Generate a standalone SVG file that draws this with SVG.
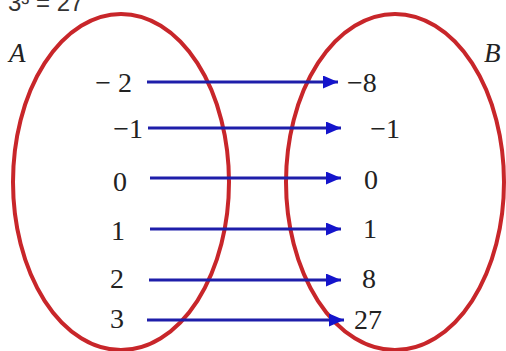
<svg xmlns="http://www.w3.org/2000/svg" width="506" height="351" viewBox="0 0 506 351">
<style>
.set{fill:none;stroke:#c8262a;stroke-width:4}
.num{font-family:"Liberation Serif","Times New Roman",serif;font-size:28px;fill:#222}
.lbl{font-family:"Liberation Serif","Times New Roman",serif;font-size:27px;font-style:italic;fill:#222}
.top{font-family:"Liberation Sans",Arial,sans-serif;font-size:24px;fill:#333}
.arr{stroke:#1e1eaa;stroke-width:3;fill:none;marker-end:url(#ah)}
</style>
<defs>
<marker id="ah" viewBox="0 0 15 13" refX="15" refY="6.5" markerWidth="15" markerHeight="13" markerUnits="userSpaceOnUse" orient="auto">
<path d="M0,0 L15,6.5 L0,13 Z" fill="#1414cc"/>
</marker>
</defs>
<rect width="506" height="351" fill="#ffffff"/>
<text class="top" x="8" y="11">3³ = 27</text>
<g id="setA">
<ellipse class="set" cx="121" cy="182" rx="108" ry="168"/>
<text class="lbl" x="9" y="62">A</text>
</g>
<g id="setB">
<ellipse class="set" cx="395" cy="182" rx="109" ry="168"/>
<text class="lbl" x="484" y="62">B</text>
</g>
<g id="domain">
<text class="num" x="132" y="92" text-anchor="end">− 2</text>
<text class="num" x="143" y="138" text-anchor="end">−1</text>
<text class="num" x="113" y="191">0</text>
<text class="num" x="111" y="240">1</text>
<text class="num" x="110" y="288">2</text>
<text class="num" x="110" y="328">3</text>
</g>
<g id="codomain">
<text class="num" x="347" y="92">−8</text>
<text class="num" x="400" y="138" text-anchor="end">−1</text>
<text class="num" x="364" y="189">0</text>
<text class="num" x="363" y="238">1</text>
<text class="num" x="362" y="288">8</text>
<text class="num" x="354" y="329">27</text>
</g>
<g id="connectors">
<line class="arr" x1="147" y1="82" x2="338" y2="82"/>
<line class="arr" x1="148" y1="128" x2="341" y2="128"/>
<line class="arr" x1="150" y1="178" x2="341" y2="178"/>
<line class="arr" x1="150" y1="229" x2="341" y2="229"/>
<line class="arr" x1="149" y1="280" x2="341" y2="280"/>
<line class="arr" x1="147" y1="320" x2="344" y2="320"/>
</g>
</svg>
